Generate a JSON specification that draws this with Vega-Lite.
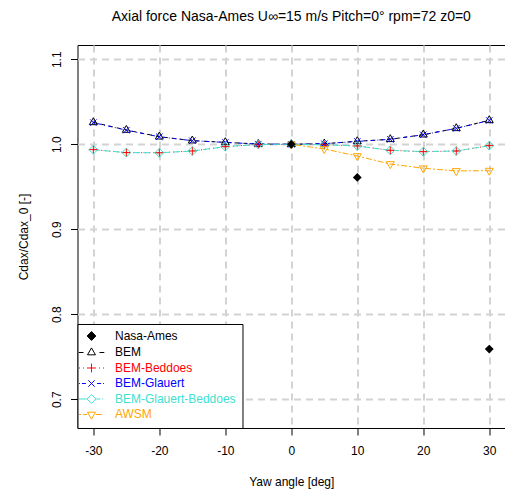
{
  "$schema": "https://vega.github.io/schema/vega-lite/v6.json",
  "width": 427.6,
  "height": 383,
  "autosize": {"type": "none"},
  "padding": {"left": 77.5, "top": 45, "right": 0, "bottom": 64},
  "title": {"text": "Axial force Nasa-Ames U∞=15 m/s Pitch=0° rpm=72 z0=0", "font": "Liberation Sans", "fontSize": 14, "fontWeight": "normal", "color": "black", "baseline": "alphabetic", "offset": 10, "anchor": "middle"},
  "config": {
    "view": {"stroke": "black", "strokeWidth": 1},
    "axis": {"domain": false, "grid": true, "gridColor": "#d3d3d3", "gridDash": [7, 5], "gridWidth": 2, "tickColor": "black", "tickSize": 7, "tickWidth": 1, "labelFont": "Liberation Sans", "labelFontSize": 12, "labelColor": "black", "titleFont": "Liberation Sans", "titleFontSize": 12, "titleFontWeight": "normal", "titleColor": "black"}
  },
  "data": {"values": [
    {"yaw": 0, "cdax": 1.0, "series": "Nasa-Ames"},
    {"yaw": 10, "cdax": 0.961, "series": "Nasa-Ames"},
    {"yaw": 30, "cdax": 0.759, "series": "Nasa-Ames"},
    {"yaw": -30, "cdax": 1.0258, "series": "BEM"},
    {"yaw": -25, "cdax": 1.0168, "series": "BEM"},
    {"yaw": -20, "cdax": 1.0089, "series": "BEM"},
    {"yaw": -15, "cdax": 1.0043, "series": "BEM"},
    {"yaw": -10, "cdax": 1.0023, "series": "BEM"},
    {"yaw": -5, "cdax": 1.0003, "series": "BEM"},
    {"yaw": 0, "cdax": 1.0, "series": "BEM"},
    {"yaw": 5, "cdax": 1.0007, "series": "BEM"},
    {"yaw": 10, "cdax": 1.0035, "series": "BEM"},
    {"yaw": 15, "cdax": 1.0059, "series": "BEM"},
    {"yaw": 20, "cdax": 1.0113, "series": "BEM"},
    {"yaw": 25, "cdax": 1.0188, "series": "BEM"},
    {"yaw": 30, "cdax": 1.0282, "series": "BEM"},
    {"yaw": -30, "cdax": 0.9937, "series": "BEM-Beddoes"},
    {"yaw": -25, "cdax": 0.9902, "series": "BEM-Beddoes"},
    {"yaw": -20, "cdax": 0.99, "series": "BEM-Beddoes"},
    {"yaw": -15, "cdax": 0.9921, "series": "BEM-Beddoes"},
    {"yaw": -10, "cdax": 0.9972, "series": "BEM-Beddoes"},
    {"yaw": -5, "cdax": 0.9998, "series": "BEM-Beddoes"},
    {"yaw": 0, "cdax": 1.0, "series": "BEM-Beddoes"},
    {"yaw": 5, "cdax": 0.9995, "series": "BEM-Beddoes"},
    {"yaw": 10, "cdax": 0.998, "series": "BEM-Beddoes"},
    {"yaw": 15, "cdax": 0.9929, "series": "BEM-Beddoes"},
    {"yaw": 20, "cdax": 0.9913, "series": "BEM-Beddoes"},
    {"yaw": 25, "cdax": 0.9921, "series": "BEM-Beddoes"},
    {"yaw": 30, "cdax": 0.9984, "series": "BEM-Beddoes"},
    {"yaw": -30, "cdax": 1.0255, "series": "BEM-Glauert"},
    {"yaw": -25, "cdax": 1.0166, "series": "BEM-Glauert"},
    {"yaw": -20, "cdax": 1.0088, "series": "BEM-Glauert"},
    {"yaw": -15, "cdax": 1.0042, "series": "BEM-Glauert"},
    {"yaw": -10, "cdax": 1.0022, "series": "BEM-Glauert"},
    {"yaw": -5, "cdax": 1.0003, "series": "BEM-Glauert"},
    {"yaw": 0, "cdax": 1.0, "series": "BEM-Glauert"},
    {"yaw": 5, "cdax": 1.0007, "series": "BEM-Glauert"},
    {"yaw": 10, "cdax": 1.0034, "series": "BEM-Glauert"},
    {"yaw": 15, "cdax": 1.0058, "series": "BEM-Glauert"},
    {"yaw": 20, "cdax": 1.0112, "series": "BEM-Glauert"},
    {"yaw": 25, "cdax": 1.0187, "series": "BEM-Glauert"},
    {"yaw": 30, "cdax": 1.028, "series": "BEM-Glauert"},
    {"yaw": -30, "cdax": 0.9937, "series": "BEM-Glauert-Beddoes"},
    {"yaw": -25, "cdax": 0.9902, "series": "BEM-Glauert-Beddoes"},
    {"yaw": -20, "cdax": 0.99, "series": "BEM-Glauert-Beddoes"},
    {"yaw": -15, "cdax": 0.9921, "series": "BEM-Glauert-Beddoes"},
    {"yaw": -10, "cdax": 0.9972, "series": "BEM-Glauert-Beddoes"},
    {"yaw": -5, "cdax": 0.9998, "series": "BEM-Glauert-Beddoes"},
    {"yaw": 0, "cdax": 1.0, "series": "BEM-Glauert-Beddoes"},
    {"yaw": 5, "cdax": 0.9995, "series": "BEM-Glauert-Beddoes"},
    {"yaw": 10, "cdax": 0.998, "series": "BEM-Glauert-Beddoes"},
    {"yaw": 15, "cdax": 0.9929, "series": "BEM-Glauert-Beddoes"},
    {"yaw": 20, "cdax": 0.9913, "series": "BEM-Glauert-Beddoes"},
    {"yaw": 25, "cdax": 0.9921, "series": "BEM-Glauert-Beddoes"},
    {"yaw": 30, "cdax": 0.9984, "series": "BEM-Glauert-Beddoes"},
    {"yaw": 0, "cdax": 1.0, "series": "AWSM"},
    {"yaw": 5, "cdax": 0.9945, "series": "AWSM"},
    {"yaw": 10, "cdax": 0.9862, "series": "AWSM"},
    {"yaw": 15, "cdax": 0.9768, "series": "AWSM"},
    {"yaw": 20, "cdax": 0.9718, "series": "AWSM"},
    {"yaw": 25, "cdax": 0.9686, "series": "AWSM"},
    {"yaw": 30, "cdax": 0.969, "series": "AWSM"}
  ]},
  "encoding": {
    "x": {"field": "yaw", "type": "quantitative", "title": "Yaw angle [deg]",
      "scale": {"domain": [-32.4, 32.4], "nice": false, "zero": false},
      "axis": {"values": [-30, -20, -10, 0, 10, 20, 30], "labelExpr": "datum.value + ''", "labelBaseline": "alphabetic", "labelPadding": 20, "titleBaseline": "alphabetic", "titleY": 57.3}},
    "y": {"field": "cdax", "type": "quantitative", "title": "Cdax/Cdax_0 [-]",
      "scale": {"domain": [0.6662, 1.1168], "nice": false, "zero": false},
      "axis": {"values": [0.7, 0.8, 0.9, 1.0, 1.1], "format": ".1f", "labelAngle": 270, "labelAlign": "center", "labelBaseline": "alphabetic", "labelPadding": 9.8, "titleAngle": 270, "titleBaseline": "alphabetic", "titleAlign": "center", "titleX": -50, "titleY": 191.5}}
  },
  "layer": [
    {
      "transform": [{"filter": "datum.series !== 'Nasa-Ames'"}],
      "mark": {"type": "line", "strokeWidth": 1},
      "encoding": {
        "color": {"field": "series", "type": "nominal",
          "scale": {"domain": ["Nasa-Ames", "BEM", "BEM-Beddoes", "BEM-Glauert", "BEM-Glauert-Beddoes", "AWSM"], "range": ["#000000", "#000000", "#FF0000", "#0000FF", "#40E0D0", "#FFA500"]},
          "legend": {"orient": "none", "legendX": 0, "legendY": 279, "title": null, "padding": 6, "strokeColor": "black", "fillColor": "white", "cornerRadius": 0, "labelFont": "Liberation Sans", "labelFontSize": 12, "symbolSize": 64, "symbolStrokeWidth": 1, "symbolOffset": 2.0, "labelOffset": 17.5, "rowPadding": 2.5, "labelLimit": 0,
            "encode": {
              "symbols": {"update": {
                "size": {"value": 64},
                "strokeWidth": {"value": 1},
                "strokeDash": {"value": []},
                "opacity": {"value": 1},
                "shape": {"signal": "datum.value === 'Nasa-Ames' ? 'M0,-1.1L1.1,0L0,1.1L-1.1,0Z' : datum.value === 'BEM' ? 'M-3.2,0H-2M2,0H3.2M0,-1.15L1,0.58L-1,0.58Z' : datum.value === 'BEM-Beddoes' ? 'M-3.125,0H-2.875M-2.125,0H-1.875M1.875,0H2.125M2.875,0H3.125M-1.1,0H1.1M0,-1.1V1.1' : datum.value === 'BEM-Glauert' ? 'M-3.125,0H-2.9M-2.4,0H-1.4M1.4,0H2.4M2.9,0H3.125M-0.8,-0.8L0.8,0.8M-0.8,0.8L0.8,-0.8' : datum.value === 'BEM-Glauert-Beddoes' ? 'M-3.125,0H-1.2M1.2,0H2.2M2.7,0H2.95M0,-1.1L1.1,0L0,1.1L-1.1,0Z' : 'M-3.125,0H-2.6M-2.1,0H-1.1M1.1,0H2.6M0,1.15L1,-0.58L-1,-0.58Z'"},
                "fill": {"signal": "datum.value === 'Nasa-Ames' ? 'black' : 'transparent'"},
                "stroke": {"signal": "datum.value === 'BEM-Beddoes' ? '#FF0000' : datum.value === 'BEM-Glauert' ? '#0000FF' : datum.value === 'BEM-Glauert-Beddoes' ? '#40E0D0' : datum.value === 'AWSM' ? '#FFA500' : 'black'"}
              }},
              "labels": {"update": {
                "fill": {"signal": "datum.value === 'BEM-Beddoes' ? '#FF0000' : datum.value === 'BEM-Glauert' ? '#0000FF' : datum.value === 'BEM-Glauert-Beddoes' ? '#40E0D0' : datum.value === 'AWSM' ? '#FFA500' : 'black'"}
              }}
            }}
        },
        "strokeDash": {"field": "series", "type": "nominal", "legend": null,
          "scale": {"domain": ["BEM", "BEM-Beddoes", "BEM-Glauert", "BEM-Glauert-Beddoes", "AWSM"], "range": [[4, 4], [1, 3], [1, 3, 4, 3], [7, 3], [2, 2, 6, 2]]}}
      }
    },
    {
      "transform": [{"filter": "datum.series === 'BEM'"}],
      "mark": {"type": "point", "filled": false, "strokeWidth": 1, "size": 64, "opacity": 1, "color": "#000000", "shape": "M0,-1.15L1,0.58L-1,0.58Z"}
    },
    {
      "transform": [{"filter": "datum.series === 'BEM-Beddoes'"}],
      "mark": {"type": "point", "filled": false, "strokeWidth": 1, "size": 64, "opacity": 1, "color": "#FF0000", "shape": "M-1.1,0H1.1M0,-1.1V1.1"}
    },
    {
      "transform": [{"filter": "datum.series === 'BEM-Glauert'"}],
      "mark": {"type": "point", "filled": false, "strokeWidth": 1, "size": 64, "opacity": 1, "color": "#0000FF", "shape": "M-0.8,-0.8L0.8,0.8M-0.8,0.8L0.8,-0.8"}
    },
    {
      "transform": [{"filter": "datum.series === 'BEM-Glauert-Beddoes'"}],
      "mark": {"type": "point", "filled": false, "strokeWidth": 1, "size": 64, "opacity": 1, "color": "#40E0D0", "shape": "M0,-1.1L1.1,0L0,1.1L-1.1,0Z"}
    },
    {
      "transform": [{"filter": "datum.series === 'AWSM'"}],
      "mark": {"type": "point", "filled": false, "strokeWidth": 1, "size": 64, "opacity": 1, "color": "#FFA500", "shape": "M0,1.15L1,-0.58L-1,-0.58Z"}
    },
    {
      "transform": [{"filter": "datum.series === 'Nasa-Ames'"}],
      "mark": {"type": "point", "filled": true, "strokeWidth": 0, "size": 64, "opacity": 1, "color": "#000000", "shape": "M0,-1.1L1.1,0L0,1.1L-1.1,0Z"}
    }
  ]
}
